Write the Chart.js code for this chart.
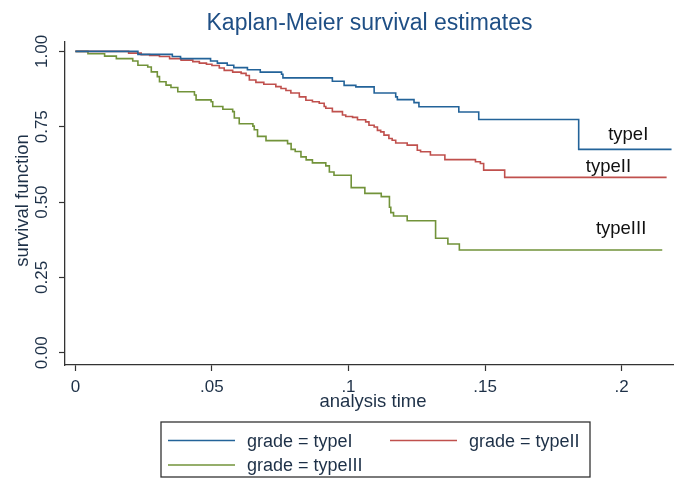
<!DOCTYPE html>
<html>
<head>
<meta charset="utf-8">
<script src="https://cdn.jsdelivr.net/npm/chart.js@4.4.0/dist/chart.umd.min.js"></script>
<style>
  body { margin: 0; background: #fff; }
  canvas { display: block; }
</style>
</head>
<body>
<canvas id="km" width="674" height="479"></canvas>
<script>
// step curves: event time -> survival after the drop
const typeITime = [0, 0.0229, 0.0355, 0.0385, 0.0495, 0.052, 0.0556, 0.058, 0.063, 0.0677, 0.0755, 0.076,
    0.0941, 0.0984, 0.1027, 0.1094, 0.1173, 0.1179, 0.124, 0.1258, 0.1404, 0.1477, 0.1843, 0.2183];
const typeISurv = [1, 0.990, 0.983, 0.976, 0.968, 0.961, 0.954, 0.946, 0.939, 0.931, 0.924, 0.912,
    0.901, 0.887, 0.882, 0.862, 0.849, 0.840, 0.830, 0.816, 0.799, 0.774, 0.675, 0.675];

const typeIITime = [0, 0.0195, 0.0241, 0.0272, 0.0308, 0.0345, 0.0387, 0.043, 0.0454, 0.048, 0.05, 0.0527,
    0.0545, 0.0576, 0.0607, 0.0625, 0.0637, 0.0661, 0.069, 0.0734, 0.0753, 0.0771, 0.0789, 0.082, 0.0844,
    0.0868, 0.0893, 0.0911, 0.0917, 0.0941, 0.0978, 0.099, 0.1015, 0.1033, 0.1063, 0.1075, 0.1094, 0.1106,
    0.1118, 0.113, 0.1148, 0.116, 0.1173, 0.1215, 0.1252, 0.1264, 0.130, 0.1353, 0.1465, 0.1483, 0.1495,
    0.1572, 0.2165];
const typeIISurv = [1, 0.994, 0.989, 0.986, 0.983, 0.976, 0.971, 0.966, 0.961, 0.957, 0.953, 0.945,
    0.937, 0.931, 0.927, 0.920, 0.905, 0.897, 0.891, 0.883, 0.877, 0.870, 0.862, 0.849, 0.838,
    0.833, 0.828, 0.817, 0.811, 0.800, 0.789, 0.784, 0.781, 0.773, 0.766, 0.755, 0.749, 0.738,
    0.733, 0.722, 0.711, 0.705, 0.696, 0.689, 0.672, 0.667, 0.656, 0.641, 0.634, 0.628, 0.606,
    0.582, 0.582];

const typeIIITime = [0, 0.0046, 0.0107, 0.015, 0.021, 0.0229, 0.0265, 0.0278, 0.030, 0.0308, 0.0332, 0.035,
    0.0375, 0.0436, 0.0442, 0.0497, 0.0503, 0.054, 0.0576, 0.0582, 0.060, 0.065, 0.0655, 0.0667, 0.0698,
    0.0777, 0.079, 0.0805, 0.0826, 0.0845, 0.0868, 0.0917, 0.093, 0.0947, 0.101, 0.106, 0.112, 0.115,
    0.1155, 0.1165, 0.1215, 0.1319, 0.1364, 0.1406, 0.2149];
const typeIIISurv = [1, 0.992, 0.984, 0.976, 0.968, 0.954, 0.948, 0.932, 0.916, 0.899, 0.888, 0.880,
    0.866, 0.855, 0.839, 0.833, 0.817, 0.808, 0.800, 0.779, 0.760, 0.752, 0.740, 0.718, 0.704,
    0.694, 0.675, 0.668, 0.650, 0.640, 0.630, 0.620, 0.600, 0.589, 0.548, 0.529, 0.518, 0.483,
    0.465, 0.454, 0.438, 0.380, 0.361, 0.341, 0.341];

const xTicks = [0, 0.05, 0.1, 0.15, 0.2];
const xTickLabels = ['0', '.05', '.1', '.15', '.2'];
const yTicks = [0, 0.25, 0.5, 0.75, 1];
const yTickLabels = ['0.00', '0.25', '0.50', '0.75', '1.00'];

const groupNames = ['typeI', 'typeII', 'typeIII'];
const legendLabels = ['grade = typeI', 'grade = typeII', 'grade = typeIII'];
// where the group names are written, in (time, survival)
const tagTime = [0.1951, 0.1869, 0.1906];
const tagSurv = [0.707, 0.600, 0.394];

const FONT = '"Liberation Sans", Arial, sans-serif';
const INK = '#1d3047';
const AXIS = '#333333';
const colors = ['#236399', '#c0504d', '#72933a'];

function toPoints(times, surv) {
    return times.map((t, i) => ({ x: t, y: surv[i] }));
}

const series = [
    toPoints(typeITime, typeISurv),
    toPoints(typeIITime, typeIISurv),
    toPoints(typeIIITime, typeIIISurv)
];

// text, rotated tick labels and the boxed legend, the way Stata lays them out
const stataText = {
    id: 'stataText',
    afterDraw(chart) {
        const ctx = chart.ctx;
        const area = chart.chartArea;
        const xs = chart.scales.x;
        const ys = chart.scales.y;
        ctx.save();

        ctx.fillStyle = '#1f4f85';
        ctx.font = '23px ' + FONT;
        ctx.textAlign = 'center';
        ctx.textBaseline = 'alphabetic';
        ctx.fillText('Kaplan-Meier survival estimates', (area.left + area.right) / 2, 30);

        // y tick labels, turned to read upwards
        ctx.fillStyle = INK;
        ctx.font = '17px ' + FONT;
        yTicks.forEach((v, i) => {
            ctx.save();
            ctx.translate(42, ys.getPixelForValue(v));
            ctx.rotate(-Math.PI / 2);
            ctx.textAlign = 'center';
            ctx.textBaseline = 'middle';
            ctx.fillText(yTickLabels[i], 0, 0);
            ctx.restore();
        });

        ctx.font = '18.5px ' + FONT;
        ctx.save();
        ctx.translate(23, (area.top + area.bottom) / 2 - 3);
        ctx.rotate(-Math.PI / 2);
        ctx.textAlign = 'center';
        ctx.textBaseline = 'middle';
        ctx.fillText('survival function', 0, 0);
        ctx.restore();

        ctx.textAlign = 'center';
        ctx.textBaseline = 'alphabetic';
        ctx.fillText('analysis time', 373, 407);

        // group names next to the curves
        ctx.fillStyle = '#111';
        ctx.textAlign = 'left';
        groupNames.forEach((name, i) => {
            ctx.fillText(name, xs.getPixelForValue(tagTime[i]), ys.getPixelForValue(tagSurv[i]));
        });

        // legend box
        ctx.strokeStyle = AXIS;
        ctx.lineWidth = 1.3;
        ctx.strokeRect(161, 422, 429, 55);
        const slots = [[168, 440.5], [390, 440.5], [168, 465]];
        ctx.font = '18px ' + FONT;
        ctx.fillStyle = INK;
        chart.data.datasets.forEach((ds, i) => {
            const [lx, ly] = slots[i];
            ctx.strokeStyle = ds.borderColor;
            ctx.lineWidth = 1.6;
            ctx.beginPath();
            ctx.moveTo(lx, ly);
            ctx.lineTo(lx + 67, ly);
            ctx.stroke();
            ctx.fillText(ds.label, lx + 79, ly + 6);
        });
        ctx.restore();
    }
};

const tickGrid = {
    drawOnChartArea: false,
    drawTicks: true,
    tickLength: 6,
    tickWidth: 1.2,
    tickColor: AXIS,
    color: AXIS
};

new Chart(document.getElementById('km').getContext('2d'), {
    type: 'line',
    data: {
        datasets: series.map((pts, i) => ({
            label: legendLabels[i],
            data: pts,
            stepped: true,
            borderColor: colors[i],
            borderWidth: 1.6,
            pointRadius: 0,
            fill: false
        }))
    },
    options: {
        responsive: false,
        animation: false,
        devicePixelRatio: 1,
        layout: { padding: { top: 42, left: 0, right: 0, bottom: 0 } },
        plugins: {
            legend: { display: false },
            title: { display: false },
            tooltip: { enabled: false }
        },
        scales: {
            x: {
                type: 'linear',
                min: -0.0038,
                max: 0.2192,
                afterBuildTicks: axis => { axis.ticks = xTicks.map(v => ({ value: v })); },
                afterFit: axis => { axis.height = 114; },
                ticks: {
                    autoSkip: false,
                    maxRotation: 0,
                    padding: 6,
                    color: INK,
                    font: { family: FONT, size: 17 },
                    callback: (v, i) => xTickLabels[i]
                },
                grid: tickGrid,
                border: { display: true, color: AXIS, width: 1.3 }
            },
            y: {
                type: 'linear',
                min: -0.0404,
                max: 1.031,
                afterBuildTicks: axis => { axis.ticks = yTicks.map(v => ({ value: v })); },
                afterFit: axis => { axis.width = 65; },
                ticks: { display: false },
                grid: tickGrid,
                border: { display: true, color: AXIS, width: 1.3 }
            }
        }
    },
    plugins: [stataText]
});
</script>
</body>
</html>
